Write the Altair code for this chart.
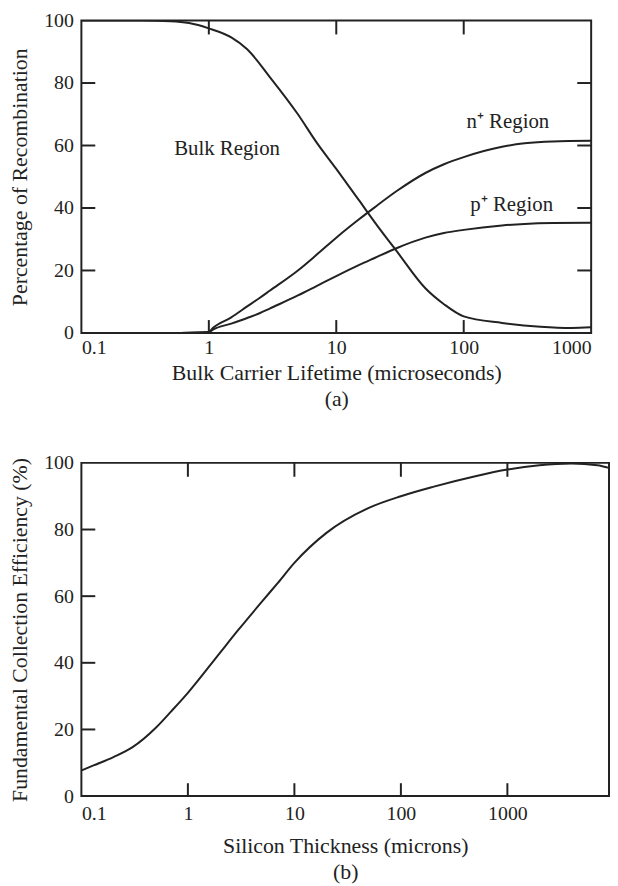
import altair as alt
import pandas as pd

# ---------------- Panel (a): recombination vs bulk lifetime ----------------
bulk_x = [0.1, 0.3, 0.5, 0.7, 1.0, 1.5, 2.0, 3.0, 5.0, 7.0, 10, 15, 20, 30, 50, 70, 100, 200, 400, 700, 1000]
bulk_y = [100, 100, 99.8, 99.2, 97.5, 94.6, 90.8, 82, 70, 61, 52.5, 42.6, 35.5, 26, 14.3, 9.2, 5.3, 3.2, 2.0, 1.6, 1.8]

nplus_x = [0.6, 1.0, 1.07, 1.5, 2, 2.5, 3, 5, 7, 10, 15, 20, 30, 50, 70, 100, 200, 300, 500, 1000]
nplus_y = [0, 0.3, 1.5, 5, 8.5, 11.2, 13.5, 20, 25, 30.5, 36.3, 40.2, 45.5, 51.2, 54, 56.3, 59.6, 60.7, 61.3, 61.5]

pplus_x = [0.6, 1.0, 1.07, 1.5, 2, 2.5, 3, 5, 7, 10, 15, 20, 30, 50, 70, 100, 200, 300, 500, 1000]
pplus_y = [0, 0.2, 1.0, 3.0, 4.8, 6.3, 7.8, 12, 15, 18.2, 21.7, 24.0, 27.2, 30.5, 32, 33, 34.4, 34.9, 35.2, 35.3]

a_x_ticks = [0.1, 1, 10, 100, 1000]
a_y_ticks = [0, 20, 40, 60, 80, 100]
a_inner_x = [1, 10, 100]
a_inner_y = [20, 40, 60, 80]

a_labels = ["Bulk Region", "n\u207a Region", "p\u207a Region"]
a_label_x = [1.39, 222, 238]
a_label_y = [58.8, 67.6, 40.9]

# ---------------- Panel (b): collection efficiency vs thickness ----------------
thick_x = [0.1, 0.13, 0.2, 0.3, 0.5, 0.7, 1, 2, 3, 5, 7, 10, 20, 50, 100, 200, 500, 1000, 2000, 4000, 7000, 9000]
eff_y = [7.7, 9.2, 11.7, 14.6, 20.5, 25.5, 31, 43, 50, 58.5, 64, 70, 79, 86.5, 90, 92.8, 96, 98, 99.3, 99.8, 99.3, 98.5]

b_x_ticks = [0.1, 1, 10, 100, 1000]
b_y_ticks = [0, 20, 40, 60, 80, 100]
b_inner_x = [1, 10, 100, 1000]
b_inner_y = [20, 40, 60, 80]

FONT = "Liberation Serif"
INK = "#222222"
TICK = 13

df_a = pd.concat([
    pd.DataFrame({"x": bulk_x, "y": bulk_y, "series": "Bulk"}),
    pd.DataFrame({"x": nplus_x, "y": nplus_y, "series": "n+"}),
    pd.DataFrame({"x": pplus_x, "y": pplus_y, "series": "p+"}),
])
df_a_lab = pd.DataFrame({"x": a_label_x, "y": a_label_y, "label": a_labels})
df_b = pd.DataFrame({"x": thick_x, "y": eff_y, "series": "eff"})


def panel(df, lab_df, x_domain, x_ticks, y_ticks, inner_x, inner_y, w, h,
          x_title, y_title, right_ticks, label_pad_x, title_pad_x):
    xs = alt.Scale(type="log", domain=x_domain, nice=False)
    ys = alt.Scale(domain=[0, 100], nice=False)
    xax = alt.Axis(values=x_ticks, format="~g", title=x_title,
                   labelPadding=label_pad_x, titlePadding=title_pad_x)
    yax = alt.Axis(values=y_ticks, title=y_title, labelPadding=8, titlePadding=12)

    def X(f):
        return alt.X(f, scale=xs, axis=xax)

    def Y(f):
        return alt.Y(f, scale=ys, axis=yax)

    layers = [alt.Chart(df).mark_line(color=INK, strokeWidth=2, clip=True,
                                      interpolate="monotone").encode(
        x=X("x:Q"), y=Y("y:Q"), detail="series:N")]
    if lab_df is not None:
        layers.append(alt.Chart(lab_df).mark_text(font=FONT, fontSize=21, color=INK).encode(
            x=X("x:Q"), y=Y("y:Q"), text="label:N"))
    dx = pd.DataFrame({"t": inner_x})
    dy = pd.DataFrame({"t": inner_y})
    rule = dict(color=INK, strokeWidth=2)
    layers.append(alt.Chart(dx).mark_rule(**rule).encode(
        x=X("t:Q"), y=alt.value(h), y2=alt.value(h - TICK)))
    layers.append(alt.Chart(dx).mark_rule(**rule).encode(
        x=X("t:Q"), y=alt.value(0), y2=alt.value(TICK + 1)))
    layers.append(alt.Chart(dy).mark_rule(**rule).encode(
        y=Y("t:Q"), x=alt.value(0), x2=alt.value(TICK + 1)))
    if right_ticks:
        layers.append(alt.Chart(dy).mark_rule(**rule).encode(
            y=Y("t:Q"), x=alt.value(w), x2=alt.value(w - TICK - 1)))
    return alt.layer(*layers).properties(width=w, height=h)


panel_a = panel(df_a, df_a_lab, [0.1, 1000], a_x_ticks, a_y_ticks, a_inner_x, a_inner_y,
                514, 315, ["Bulk Carrier Lifetime (microseconds)", "(a)"],
                "Percentage of Recombination", True, 5, 5)
panel_b = panel(df_b, None, [0.1, 9000], b_x_ticks, b_y_ticks, b_inner_x, b_inner_y,
                532, 336, ["Silicon Thickness (microns)", "(b)"],
                "Fundamental Collection Efficiency (%)", False, 8, 12)

chart = alt.vconcat(panel_a, panel_b, spacing=42).properties(
    padding={"top": -2, "left": 0, "right": 0, "bottom": 0}
).configure_view(
    stroke=INK, strokeWidth=2
).configure_axis(
    domain=False, ticks=False, grid=False,
    labelFont=FONT, labelFontSize=20, labelColor=INK,
    titleFont=FONT, titleFontSize=22, titleColor=INK, titleFontWeight="normal",
    titleLineHeight=26,
)

chart.save("out.html", embed_options={"renderer": "svg", "actions": False})
